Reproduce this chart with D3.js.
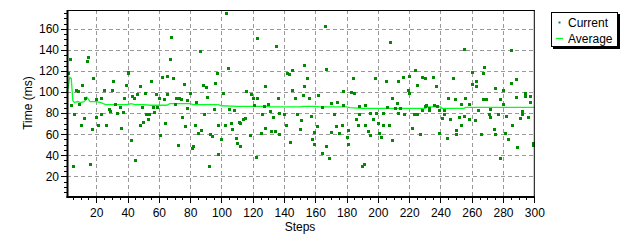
<!DOCTYPE html>
<html>
<head>
<meta charset="utf-8">
<script src="https://cdn.jsdelivr.net/npm/d3@7"></script>
<style>
  body { margin: 0; background: #fff; }
  text { font-family: "Liberation Sans", Arial, sans-serif; font-size: 12px; fill: #000; }
</style>
</head>
<body>
<script>
// scatter "Current" readings (step, time in ms)
var currentSteps = [
  3,15,14,2,40,40,31,18,11,39,48,7,8,25,30,51,43,46,44,38,4,13,9,20,23,28,29,32,35,49,6,20,23,33,37,12,10,21,26,17,36,48,50,42,45,5,16,
  68,86,67,55,62,65,69,76,97,96,90,88,58,65,80,101,60,63,71,73,74,78,84,91,56,59,70,78,95,52,54,57,89,53,64,75,77,83,98,102,87,85,61,93,94,100,72,82,81,98,92,
  103,123,135,104,142,143,145,153,128,145,116,119,120,123,136,147,152,130,121,127,105,108,131,126,137,140,148,133,115,114,111,112,106,151,141,107,128,132,134,150,125,137,118,109,110,112,144,122,
  166,167,155,153,184,198,178,183,185,162,156,170,174,178,188,192,164,172,157,188,195,199,203,197,186,200,203,161,173,177,187,192,181,194,159,170,175,201,195,180,202,158,159,167,181,164,169,191,190,
  208,255,224,205,213,216,220,228,230,235,248,225,237,219,220,209,212,245,249,253,206,211,214,230,231,236,238,228,233,233,239,242,213,217,223,225,242,241,246,252,207,253,222,250,227,239,250,244,209,
  285,268,260,267,263,288,260,263,285,275,280,294,256,267,269,278,288,294,297,297,258,280,264,272,292,255,271,277,282,292,296,291,272,258,262,286,274,266,275,281,283,289,299,299,278
];
var currentValues = [
  131,133,130,118,119,118,111,113,107,107,106,102,101,102,102,99,96,98,94,94,88,94,89,93,94,84,82,89,86,86,79,76,79,80,81,75,69,69,69,65,66,69,72,54,35,30,32,
  152,139,131,111,114,115,113,108,118,109,105,107,98,98,99,99,94,93,94,94,93,92,91,95,86,86,89,85,84,79,79,81,79,74,71,76,68,69,69,69,64,61,59,60,58,55,50,49,47,41,30,
  175,151,144,123,118,117,121,126,106,102,101,98,94,94,94,94,97,89,88,87,84,83,82,79,80,79,79,76,75,74,72,71,71,73,69,65,66,63,63,65,61,60,59,56,52,49,53,38,
  163,122,113,106,113,113,101,100,99,97,94,90,91,88,87,88,86,79,77,79,80,80,80,74,74,71,69,68,68,69,69,69,64,63,62,62,61,61,59,57,57,55,51,49,51,42,37,32,30,
  148,141,121,111,111,114,115,114,113,114,113,107,106,102,99,94,90,94,93,89,86,85,85,87,88,88,87,83,85,83,83,83,80,79,79,79,79,75,74,76,69,69,66,64,60,61,60,56,54,
  140,124,119,118,111,112,108,106,109,104,102,99,94,93,93,93,95,96,96,91,89,89,83,84,82,77,79,79,77,79,76,75,76,74,73,69,65,60,60,61,55,48,52,50,37
];

// running "Average" line
var avgSteps  = [1,2,3,4,5,6,8,10,12,13,14,15,16,20,23,26,30,35,40,42,45,50,55,60,65,67,75,80,82,90,98,100,110,130,131,150,153,160,162,180,182,190,230,232,240,241,255,256,300];
var avgValues = [100,104,114,113,92,90,91,90,91,92,95,93,91,91,90,88,88,88,88,89,88,88,87.5,87.5,87.5,89,89,89,88,88,88,87,86.5,86.5,86,86,86.5,86.5,86,86,85.3,84.6,84.6,85.9,85.9,84.6,84.6,85.5,85.5];

var xTicks = [20,40,60,80,100,120,140,160,180,200,220,240,260,280,300];
var yTicks = [20,40,60,80,100,120,140,160];

var W = 640, H = 245;
var pLeft = 65, pRight = 534.3, pTop = 10, pBottom = 197.3;

var svg = d3.select("body").append("svg")
    .attr("width", W)
    .attr("height", H);

var x = d3.scaleLinear().domain([0, 300]).range([pLeft, pRight]);
var y = d3.scaleLinear().domain([0, 178]).range([pBottom, pTop]);

// grid
var grid = svg.append("g")
    .attr("stroke", "#999")
    .attr("stroke-dasharray", "4,3")
    .attr("shape-rendering", "crispEdges");
grid.selectAll(".gx")
    .data(xTicks.filter(function(d) { return d < 300; }))
    .enter().append("line")
    .attr("x1", function(d) { return Math.round(x(d)) + 0.5; })
    .attr("x2", function(d) { return Math.round(x(d)) + 0.5; })
    .attr("y1", pTop).attr("y2", pBottom);
grid.selectAll(".gy")
    .data(yTicks)
    .enter().append("line")
    .attr("y1", function(d) { return Math.round(y(d)) + 0.5; })
    .attr("y2", function(d) { return Math.round(y(d)) + 0.5; })
    .attr("x1", 67).attr("x2", pRight);

// minor ticks
var minorX = d3.range(5, 300, 5).filter(function(d) { return d % 20 != 0; });
var minorY = d3.range(5, 178, 5).filter(function(d) { return d % 20 != 0; });

svg.append("g")
    .attr("transform", "translate(0," + 197 + ")")
    .call(d3.axisBottom(x).tickValues(minorX).tickSize(3).tickFormat(""));
svg.append("g")
    .attr("transform", "translate(0," + 197 + ")")
    .call(d3.axisBottom(x).tickValues(xTicks).tickSize(6).tickPadding(5));
svg.append("g")
    .attr("transform", "translate(" + 67 + ",0)")
    .call(d3.axisLeft(y).tickValues(minorY).tickSize(3).tickFormat(""));
svg.append("g")
    .attr("transform", "translate(" + 67 + ",0)")
    .call(d3.axisLeft(y).tickValues(yTicks).tickSize(6).tickPadding(2));

svg.selectAll(".domain").remove();
svg.selectAll(".tick line").attr("stroke", "#000").attr("shape-rendering", "crispEdges");
svg.selectAll(".tick text").style("font-size", "12px").attr("fill", "#000")
   .style("font-family", "'Liberation Sans', Arial, sans-serif");

// average line
var line = d3.line()
    .x(function(d, i) { return x(avgSteps[i]); })
    .y(function(d) { return y(d); });
svg.append("path")
    .datum(avgValues)
    .attr("fill", "none")
    .attr("stroke", "#00ff20")
    .attr("stroke-width", 1.3)
    .attr("d", line);

// current points
svg.selectAll(".pt")
    .data(currentValues)
    .enter().append("rect")
    .attr("class", "pt")
    .attr("x", function(d, i) { return Math.round(x(currentSteps[i])) - 1; })
    .attr("y", function(d) { return Math.round(y(d)) - 1; })
    .attr("width", 3)
    .attr("height", 3)
    .attr("fill", "#008c00");

// frame
svg.append("line").attr("x1", 67.5).attr("x2", 67.5).attr("y1", pTop).attr("y2", 198)
   .attr("stroke", "#000").attr("stroke-width", 2);
svg.append("line").attr("x1", 66.5).attr("x2", pRight + 0.5).attr("y1", 197).attr("y2", 197)
   .attr("stroke", "#000").attr("stroke-width", 2);
svg.append("line").attr("x1", 67).attr("x2", pRight + 0.5).attr("y1", 10.5).attr("y2", 10.5)
   .attr("stroke", "#000").attr("stroke-width", 1);
svg.append("line").attr("x1", pRight).attr("x2", pRight).attr("y1", 10).attr("y2", 197)
   .attr("stroke", "#000").attr("stroke-width", 1);

// axis titles
svg.append("text")
   .attr("x", 300).attr("y", 231)
   .attr("text-anchor", "middle")
   .text("Steps");
svg.append("text")
   .attr("transform", "translate(32," + 103 + ") rotate(-90)")
   .attr("text-anchor", "middle")
   .text("Time (ms)");

// legend
var lg = svg.append("g");
lg.append("rect").attr("x", 553).attr("y", 14).attr("width", 67).attr("height", 35).attr("fill", "#000");
lg.append("rect").attr("x", 551.5).attr("y", 12.5).attr("width", 66).attr("height", 34)
  .attr("fill", "#fff").attr("stroke", "#000").attr("stroke-width", 1);
lg.append("rect").attr("x", 558.5).attr("y", 21.5).attr("width", 2).attr("height", 2).attr("fill", "#008080");
lg.append("text").attr("x", 568).attr("y", 27).text("Current");
lg.append("line").attr("x1", 556).attr("x2", 563).attr("y1", 38.5).attr("y2", 38.5)
  .attr("stroke", "#00ff20").attr("stroke-width", 1.3);
lg.append("text").attr("x", 568).attr("y", 43).text("Average");
</script>
</body>
</html>
